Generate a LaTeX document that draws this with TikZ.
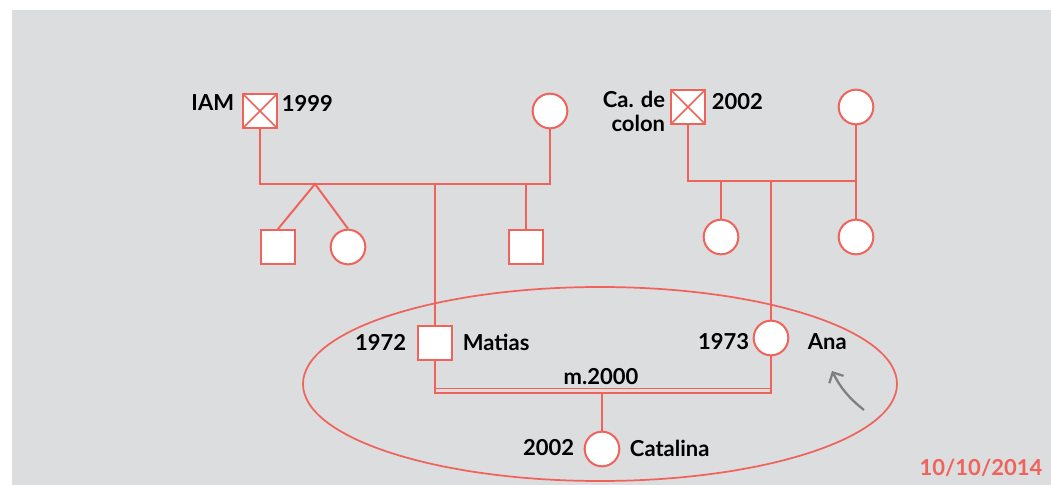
\documentclass[tikz,border=0pt]{standalone}
\usepackage{fontspec}
\setmainfont{Lato}
\usepackage{tikz}
\usetikzlibrary{positioning}
\usetikzlibrary{arrows.meta}
\definecolor{pedred}{HTML}{F0635B}
\definecolor{bggray}{HTML}{DCDDDF}
\definecolor{arrgray}{HTML}{7F7F7F}

\begin{document}
\begin{tikzpicture}[
		x=0.75pt,y=-0.75pt,
		Male/.style={draw=pedred,fill=white,line width=1.5pt,minimum size=25.5pt,inner sep=0pt},
		Female/.style={circle,draw=pedred,fill=white,line width=1.5pt,minimum size=26pt,inner sep=0pt},
		Deceased/.style={path picture={\draw[pedred,line width=1.1pt] (path picture bounding box.north west)--(path picture bounding box.south east) (path picture bounding box.north east)--(path picture bounding box.south west);}},
		Links/.style={draw=pedred,line width=1.5pt},
		Label/.style={font=\bfseries\fontsize{16.5}{18}\selectfont,inner sep=2pt}
		]
		\useasboundingbox (0,0) rectangle (1051,485);
		\fill[bggray] (12,10) rectangle (1051,485);
		
		% bar heights
		\coordinate (LBar) at (0,184);
		\coordinate (RBar) at (0,181);
		\coordinate (MBar) at (0,393);
		\coordinate (MThin) at (0,388);
		\coordinate (TwinApex) at (315,184);
		
		% the circled couple
		\draw[pedred,line width=1.3pt] (600,384) ellipse [x radius=297,y radius=97];
		
		\node[Male,Deceased] (iam) at (260,111) {};
		\node[Female] (iamwife) at (550,111) {};
		\node[Male] (twinboy) at (278,247) {};
		\node[Female] (twingirl) at (348,247) {};
		\node[Male] (uncle) at (526,247) {};
		
		\node[Male,Deceased] (colon) at (688,107) {};
		\node[Female] (colonwife) at (856,107) {};
		\node[Female] (auntA) at (721,237) {};
		\node[Female] (auntB) at (856,237) {};
		
		\node[Male] (matias) at (435,343) {};
		\node[Female] (ana) at (771,338) {};
		\node[Female] (catalina) at (602,449) {};
		
		% left family
		\draw[Links] (iam.south) -- (iam.south |- LBar) -- (iamwife.south |- LBar) -- (iamwife.south);
		\draw[Links] (twinboy.north) -- (TwinApex) -- (twingirl.north);
		\draw[Links] (matias.north) -- (matias.north |- LBar);
		\draw[Links] (uncle.north) -- (uncle.north |- LBar);
		
		% right family
		\draw[Links] (colon.south) -- (colon.south |- RBar) -- (colonwife.south |- RBar);
		\draw[Links] (colonwife.south) -- (auntB.north);
		\draw[Links] (auntA.north) -- (auntA.north |- RBar);
		\draw[Links] (ana.north) -- (ana.north |- RBar);
		
		% marriage
		\draw[Links] (matias.south) -- (matias.south |- MBar) -- (ana.south |- MBar) -- (ana.south);
		\draw[pedred,line width=0.75pt] (matias.south |- MThin) -- (ana.south |- MThin);
		\draw[Links] (catalina.north) -- (catalina.north |- MBar);
		
		% texts
		\node[Label,anchor=east] (iamtxt) at (237,103) {IAM};
		\node[Label,anchor=west] (iamyear) at (279,103) {1999};
		\node[Label,anchor=east,align=right] (colontxt) at (668,111) {Ca. de\\colon};
		\node[Label,anchor=west] (colonyear) at (709,102) {2002};
		\node[Label,anchor=east] (matiasyear) at (409,342) {1972};
		\node[Label,anchor=west] (matiastxt) at (460,342) {Matias};
		\node[Label,anchor=east] (anayear) at (752,342) {1973};
		\node[Label,anchor=west] (anatxt) at (805,342) {Ana};
		\node[Label] (marriage) at (601,377) {m.2000};
		\node[Label,anchor=east] (catyear) at (577,448) {2002};
		\node[Label,anchor=west] (cattxt) at (627,448) {Catalina};
		\node[Label,text=pedred] (date) at (981,468) {10/10/2014};
		
		\coordinate (ArrTail) at (864,410);
		\coordinate (ArrTip) at (832,371);
		\draw[arrgray,line width=1.7pt,-{Straight Barb[length=6pt,width=12pt]}] (ArrTail) to[bend left=12] (ArrTip);
		
\end{tikzpicture}
\end{document}
